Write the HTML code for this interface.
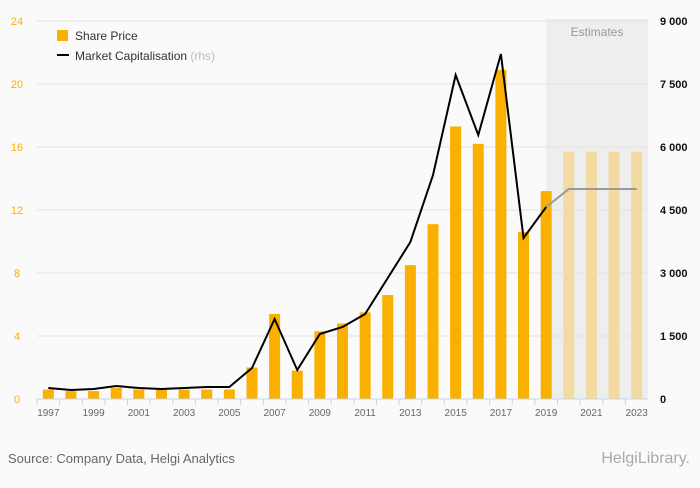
<!DOCTYPE html>
<html><head><meta charset="utf-8"><style>
body{margin:0;background:#fafafa;font-family:"Liberation Sans",sans-serif}
svg text{font-family:"Liberation Sans",sans-serif}
</style></head><body>
<svg id="c" width="700" height="483">
<rect x="0" y="0" width="700" height="483" fill="#fafafa"/>
<rect id="est" fill="#eeeeee"/>
<g id="grid"></g>
<text id="estlbl" x="597" y="36" font-size="12" fill="#999" text-anchor="middle">Estimates</text>
<g id="bars"></g><g id="lines"></g><g id="axes"></g>
<g>
<rect x="57" y="30" width="11" height="11" fill="#f9b000"/>
<text x="75" y="40" font-size="12" fill="#333">Share Price</text>
<rect x="57" y="54" width="12" height="2" fill="#000"/>
<text x="75" y="60" font-size="12" fill="#333">Market Capitalisation <tspan fill="#bbb">(rhs)</tspan></text>
</g>
<text x="8" y="463" font-size="13" fill="#666">Source: Company Data, Helgi Analytics</text>
<text x="690" y="463" font-size="16" fill="#aaa" text-anchor="end" font-family="Liberation Serif">HelgiLibrary.</text>
</svg>
<script>
const years=[1997,1998,1999,2000,2001,2002,2003,2004,2005,2006,2007,2008,2009,2010,2011,2012,2013,2014,2015,2016,2017,2018,2019,2020,2021,2022,2023];
const sharePrice=[0.6,0.5,0.5,0.7,0.6,0.6,0.6,0.6,0.6,2.0,5.4,1.8,4.3,4.8,5.5,6.6,8.5,11.1,17.3,16.2,20.9,10.6,13.2,15.7,15.7,15.7,15.7];
const marketCap=[262,214,238,310,262,238,262,286,286,738,1905,690,1548,1714,2024,2881,3738,5333,7714,6286,8214,3833,4571,5000,5000,5000,5000];
const leftTicks=[0,4,8,12,16,20,24];
const rightTicks=[0,1500,3000,4500,6000,7500,9000];
const rightLabels=["0","1 500","3 000","4 500","6 000","7 500","9 000"];
const firstEstimate=2020;
const NS="http://www.w3.org/2000/svg";
const X0=37,X1=648,Y0=399,Y1=21;
const step=(X1-X0)/years.length;
const x=i=>X0+step*(i+0.5);
const yL=v=>Y0-(v/24)*(Y0-Y1);
const yR=v=>Y0-(v/9000)*(Y0-Y1);
function mk(t,a,p){const e=document.createElementNS(NS,t);for(const k in a)e.setAttribute(k,a[k]);p.appendChild(e);return e;}
const grid=document.getElementById('grid'),bars=document.getElementById('bars'),lines=document.getElementById('lines'),axes=document.getElementById('axes');
leftTicks.forEach((v,i)=>{
 if(v>0){const g=mk('line',{x1:X0,x2:X1,y1:yL(v),y2:yL(v),stroke:'#e3e3e3'},grid);
 
 }
 const t=mk('text',{x:17,y:yL(v)+4,'font-size':11,fill:'#f9b000','text-anchor':'middle'},axes);t.textContent=v;
 
 
});
rightTicks.forEach((v,i)=>{
 const t=mk('text',{x:660,y:yR(v)+4,'font-size':11,fill:'#111','font-weight':'bold'},axes);t.textContent=rightLabels[i];
 
 
});
const ei=years.indexOf(firstEstimate);
const est=document.getElementById('est');
const ex=x(ei-1);
est.setAttribute('x',ex);est.setAttribute('y',Y1-2);est.setAttribute('width',X1-ex);est.setAttribute('height',Y0-Y1+2);
years.forEach((yr,i)=>{
 const b=mk('rect',{x:x(i)-5.5,y:yL(sharePrice[i]),width:11,height:Y0-yL(sharePrice[i]),fill:yr>=firstEstimate?'#f3d9a2':'#f9b000'},bars);
 
 
 const tk=mk('line',{x1:X0+step*i,x2:X0+step*i,y1:Y0,y2:Y0+6,stroke:'#c8d4e6'},axes);
 
 
 if(i%2==0){const t=mk('text',{x:x(i),y:Y0+17,'font-size':10,fill:'#666','text-anchor':'middle'},axes);t.textContent=yr;
 
 }
});
const ax=mk('line',{x1:X0,x2:X1,y1:Y0,y2:Y0,stroke:'#c8d4e6'},axes);


const pts=marketCap.map((v,i)=>x(i)+','+yR(v));
const l1=mk('polyline',{points:pts.slice(0,ei).join(' '),fill:'none',stroke:'#000','stroke-width':2},lines);


const l2=mk('polyline',{points:pts.slice(ei-1).join(' '),fill:'none',stroke:'#999','stroke-width':2},lines);


</script>
</body></html>
